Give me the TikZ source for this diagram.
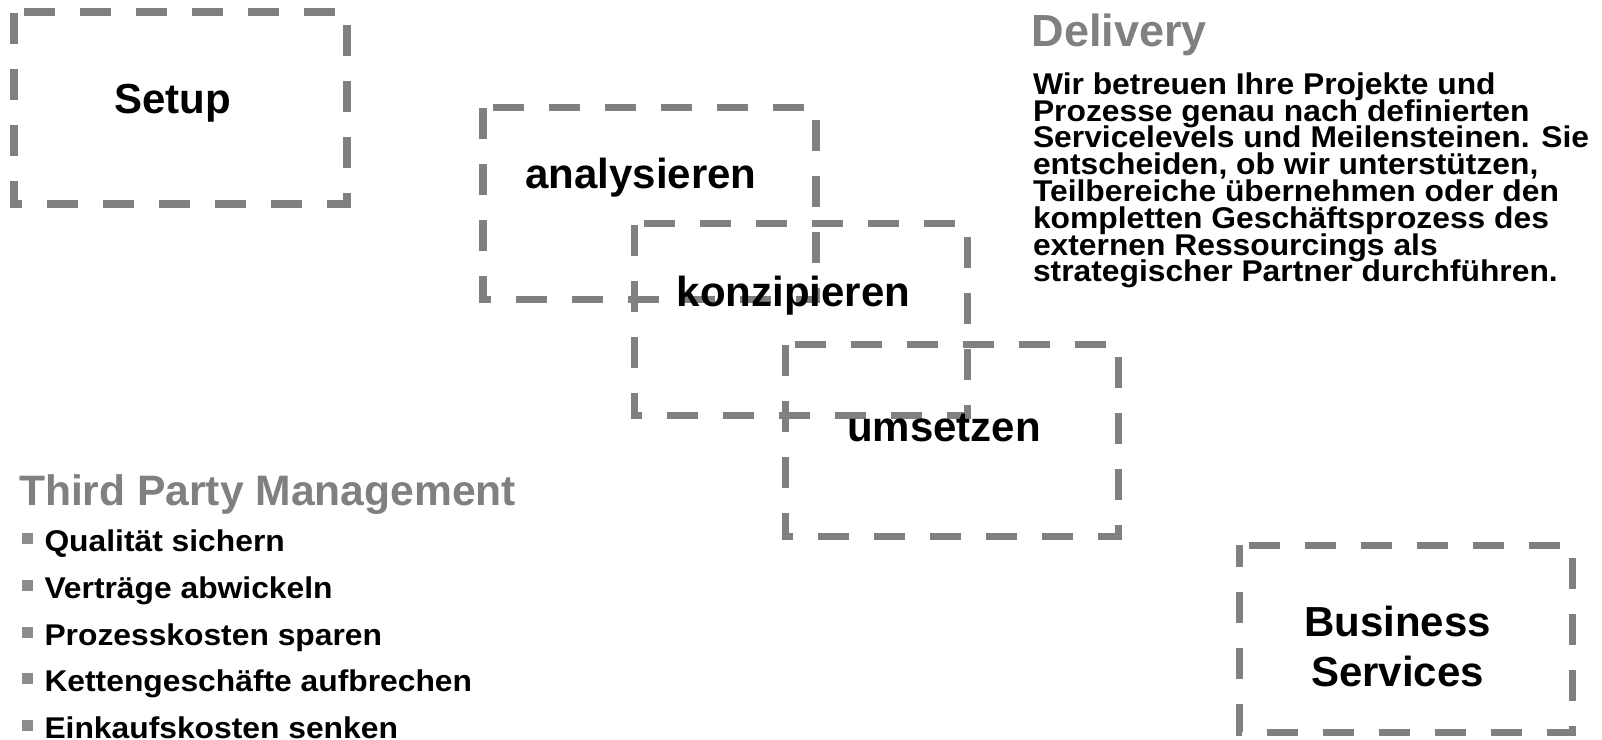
\documentclass[tikz,border=0pt]{standalone}
\usepackage{fontspec}
\setmainfont{Liberation Sans}
\usepackage{tikz}
\usetikzlibrary{positioning}
\definecolor{framegray}{RGB}{128,128,128}
\definecolor{headgray}{RGB}{128,128,128}
\definecolor{dotgray}{RGB}{140,140,140}
\newcommand\tightlines{\lineskiplimit=-100bp\relax}

\begin{document}
\begin{tikzpicture}[x=1bp,y=-1bp,inner sep=0pt,outer sep=0pt,
  stage/.style={minimum width=333bp,minimum height=192bp},
  frame/.style={draw=framegray,line width=7.5bp,dash pattern=on 31bp off 25bp,dash phase=46bp},
  stagetext/.style={anchor=base,align=center,font={\fontsize{42bp}{50bp}\selectfont\bfseries}},
  headtext/.style={anchor=base west,text=headgray,font={\fontsize{42.6bp}{50bp}\selectfont\bfseries}},
  bodytext/.style={anchor=base west,align=left,xscale=1.06,font={\fontsize{30bp}{26.8bp}\selectfont\bfseries\tightlines}},
  bullet/.style={fill=dotgray,minimum size=11bp}]
  \useasboundingbox (0,0) rectangle (1602,740);

  \node[stage] (setupbox) at (180.7,108) {};
  \node[stage] (analysebox) at (649.7,203.3) {};
  \node[stage] (konzeptbox) at (800.8,319.5) {};
  \node[stage] (umsetzbox) at (951.8,440.3) {};
  \node[stage,minimum height=187bp] (servicebox) at (1405.8,638.9) {};
  \foreach \b in {setupbox,analysebox,konzeptbox,umsetzbox,servicebox}
    \draw[frame] (\b.north west) -- (\b.north east) -- (\b.south east) -- (\b.south west) -- cycle;

  \node[stagetext] (setup) at (172.5,113.3) {Setup};
  \node[stagetext] (analyse) at (641,188.3) {analysieren};
  \node[stagetext] (konzept) at (793.5,306.7) {konzipieren};
  \node[stagetext] (umsetz) at (944,441.7) {umsetzen};
  \node[stagetext] (service) at (1397.5,686.7) {Business\\Services};

  \node[headtext,font={\fontsize{45bp}{50bp}\selectfont\bfseries}] (delivery) at (1031.5,46.7) {Delivery};
  \node[bodytext] (deliverytext) at (1033,281.8) {Wir betreuen Ihre Projekte und\\Prozesse genau nach definierten\\Servicelevels und Meilensteinen. Sie\\entscheiden, ob wir unterstützen,\\Teilbereiche übernehmen oder den\\kompletten Geschäftsprozess des\\externen Ressourcings als\\strategischer Partner durchführen.};

  \node[headtext] (thirdparty) at (19,505) {Third Party Management};
  \foreach \t [count=\i] in {Qualität sichern,Verträge abwickeln,Prozesskosten sparen,Kettengeschäfte aufbrechen,Einkaufskosten senken}
  {
    \node[bodytext] (item\i) at (44.5,{551.7+46.65*(\i-1)}) {\t};
    \node[bullet] (dot\i) at (27.2,{538.8+46.65*(\i-1)}) {};
  }
\end{tikzpicture}
\end{document}
